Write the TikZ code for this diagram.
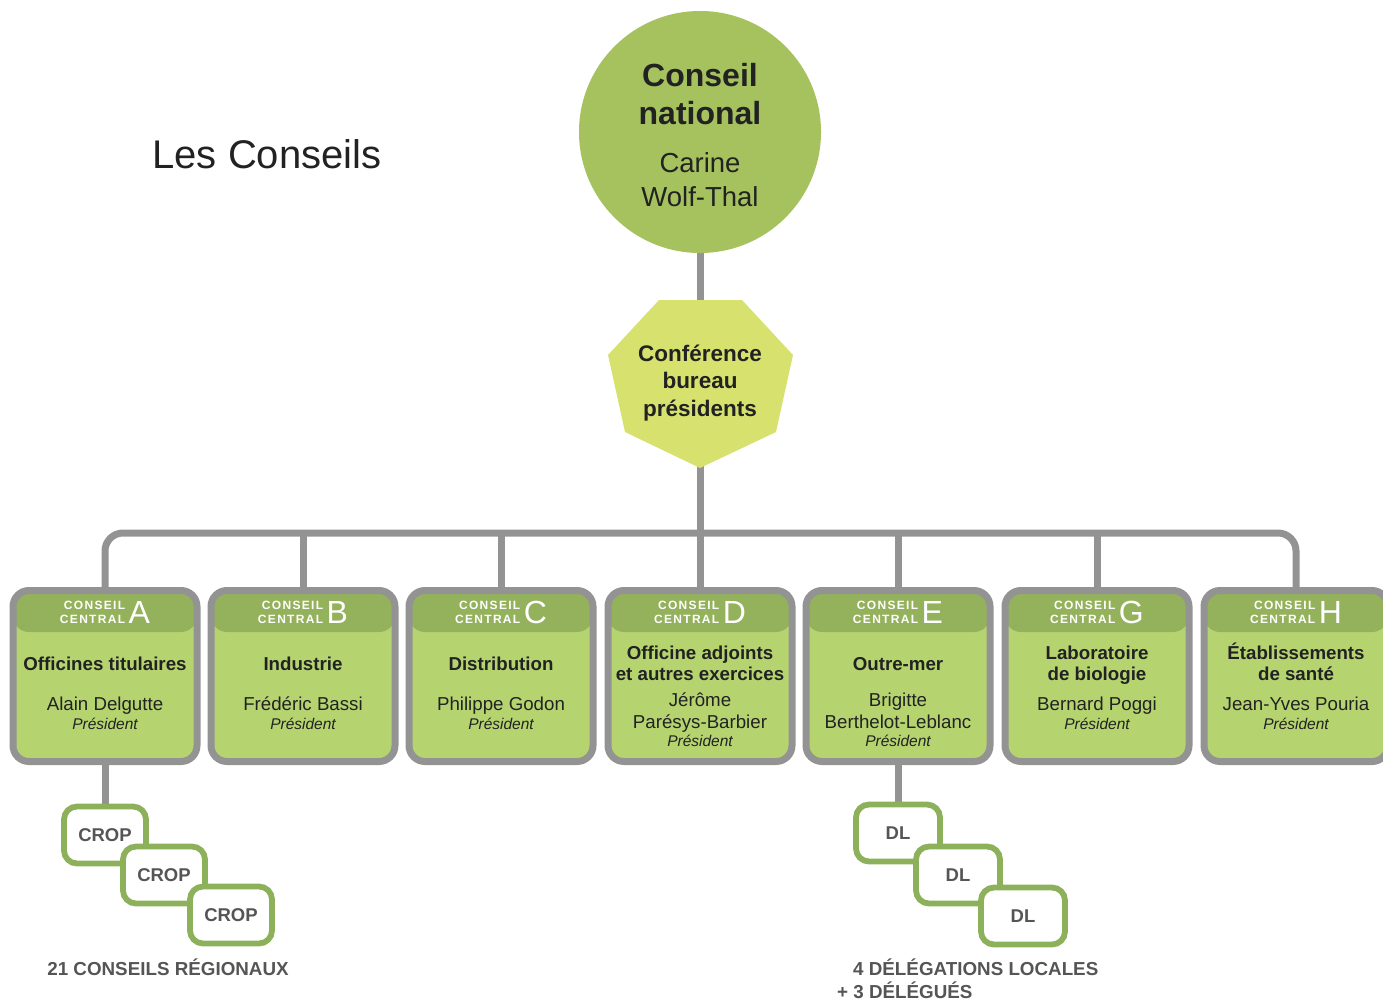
\documentclass[tikz,border=0pt]{standalone}
\usepackage{fontspec}
\setmainfont{Liberation Sans}
\newfontfamily\capsfont[LetterSpace=11]{Liberation Sans}
\usetikzlibrary{backgrounds}

\definecolor{circgreen}{HTML}{A5C25F}
\definecolor{heptfill}{HTML}{D7E16E}
\definecolor{hdrgreen}{HTML}{94B15B}
\definecolor{bodygreen}{HTML}{B5D470}
\definecolor{linkgray}{HTML}{939393}
\definecolor{framegreen}{HTML}{8DB05A}
\definecolor{labelgray}{HTML}{555555}
\definecolor{ink}{HTML}{222222}

% stacked centred lines whose baseline is the first line's
\newcommand\stack[1]{\begin{tabular}[t]{@{}c@{}}#1\end{tabular}}

\begin{document}
\begin{tikzpicture}[x=1pt,y=-1pt,
  conn/.style={draw=linkgray, line width=7pt},
  council/.style={draw=linkgray, line width=7pt, fill=bodygreen,
    rounded corners=16pt, minimum width=184pt, minimum height=171pt, inner sep=0pt,
    path picture={\fill[hdrgreen] (path picture bounding box.north west)
      rectangle ([yshift=-41.5pt]path picture bounding box.north east);}},
  hdr/.style={text=white, anchor=base, inner sep=0pt,
    font=\capsfont\bfseries\fontsize{12}{14}\selectfont},
  title/.style={anchor=base, inner sep=0pt, text=ink,
    font=\bfseries\fontsize{18.7}{21.5}\selectfont},
  person/.style={anchor=base, inner sep=0pt, text=ink,
    font=\fontsize{18.7}{22}\selectfont},
  role/.style={anchor=base, inner sep=0pt, text=ink,
    font=\itshape\fontsize{15.5}{18}\selectfont},
  unit/.style={draw=framegreen, line width=5.8pt, fill=white, rounded corners=13pt,
    minimum width=82pt, minimum height=57pt, inner sep=0pt, text=labelgray,
    font=\bfseries\fontsize{18.5}{18}\selectfont},
  footnote/.style={inner sep=0pt, text=labelgray,
    font=\bfseries\fontsize{18.8}{23}\selectfont}
]
\useasboundingbox (0,0) rectangle (1383,1000);

% page title
\node[anchor=base, inner sep=0pt, text=ink, font=\fontsize{40}{40}\selectfont]
  (pagetitle) at (267,169) {Les Conseils};

% national council
\node[circle, fill=circgreen, minimum size=242pt, inner sep=0pt] (natl) at (700,132) {};
\node[anchor=base, inner sep=0pt, text=ink, font=\bfseries\fontsize{32}{38}\selectfont]
  (natltitle) at (700,87) {\stack{Conseil\\national}};
\node[anchor=base, inner sep=0pt, text=ink, font=\fontsize{27.5}{34}\selectfont]
  (natlname) at (700,173) {\stack{Carine\\Wolf-Thal}};

% conference of presidents (stretched heptagon)
\coordinate (h1) at (659,300);
\coordinate (h2) at (742,300);
\coordinate (h3) at (793,355);
\coordinate (h4) at (776,432);
\coordinate (h5) at (700,468);
\coordinate (h6) at (625,432);
\coordinate (h7) at (608,355);
\fill[heptfill] (h1) -- (h2) -- (h3) -- (h4) -- (h5) -- (h6) -- (h7) -- cycle;
\node[anchor=base, inner sep=0pt, text=ink, font=\bfseries\fontsize{22.5}{27.5}\selectfont]
  (conf) at (700,361) {\stack{Conférence\\bureau\\présidents}};

% central councils
\newcommand\councilbox[3]{%
  \node[council] (box#1) at (#2,676) {};
  \node[hdr] (hdr#1) at (#2,623) {\begin{tabular}[b]{@{}r@{}}CONSEIL\\CENTRAL\end{tabular}\hspace{3.5pt}{\rmfamily\mdseries\fontsize{32}{32}\selectfont #3}};
}
\councilbox{A}{105}{A}
\councilbox{B}{303}{B}
\councilbox{C}{501}{C}
\councilbox{D}{700}{D}
\councilbox{E}{898}{E}
\councilbox{G}{1097}{G}
\councilbox{H}{1296}{H}

\node[title]  (titleA)  at (105,670) {Officines titulaires};
\node[person] (personA) at (105,710) {Alain Delgutte};
\node[role]   (roleA)   at (105,729) {Président};

\node[title]  (titleB)  at (303,670) {Industrie};
\node[person] (personB) at (303,710) {Frédéric Bassi};
\node[role]   (roleB)   at (303,729) {Président};

\node[title]  (titleC)  at (501,670) {Distribution};
\node[person] (personC) at (501,710) {Philippe Godon};
\node[role]   (roleC)   at (501,729) {Président};

\node[title]  (titleD)  at (700,659) {\stack{Officine adjoints\\et autres exercices}};
\node[person] (personD) at (700,706) {\stack{Jérôme\\Parésys-Barbier}};
\node[role]   (roleD)   at (700,746) {Président};

\node[title]  (titleE)  at (898,670) {Outre-mer};
\node[person] (personE) at (898,706) {\stack{Brigitte\\Berthelot-Leblanc}};
\node[role]   (roleE)   at (898,746) {Président};

\node[title]  (titleG)  at (1097,659) {\stack{Laboratoire\\de biologie}};
\node[person] (personG) at (1097,710) {Bernard Poggi};
\node[role]   (roleG)   at (1097,729) {Président};

\node[title]  (titleH)  at (1296,659) {\stack{Établissements\\de santé}};
\node[person] (personH) at (1296,710) {Jean-Yves Pouria};
\node[role]   (roleH)   at (1296,729) {Président};

% regional councils
\node[unit] (crop1) at (105,835) {CROP};
\node[unit] (crop2) at (164,875) {CROP};
\node[unit] (crop3) at (231,915) {CROP};
\node[footnote, anchor=base] (cropnote) at (168,975) {21 CONSEILS RÉGIONAUX};

% local delegations
\node[unit, minimum width=84pt] (dl1) at (898,833) {DL};
\node[unit, minimum width=84pt] (dl2) at (958,875) {DL};
\node[unit, minimum width=84pt] (dl3) at (1023,916) {DL};
\node[footnote, anchor=base west] (dlnote1) at (853,975) {4 DÉLÉGATIONS LOCALES};
\node[footnote, anchor=base west] (dlnote2) at (837,998) {+ 3 DÉLÉGUÉS};

% connectors
\begin{scope}[on background layer]
  \coordinate (bus) at (700,533);
  \draw[conn] (natl) -- (conf);
  \draw[conn] (conf) -- (bus);
  \draw[conn, rounded corners=18pt] (boxA.north) |- (boxH.north |- bus) -- (boxH.north);
  \foreach \b in {B,C,D,E,G} \draw[conn] (box\b.north) -- (box\b.north |- bus);
  \draw[conn] (boxA.south) -- (crop1.north);
  \draw[conn] (boxE.south) -- (dl1.north);
\end{scope}
\end{tikzpicture}
\end{document}
